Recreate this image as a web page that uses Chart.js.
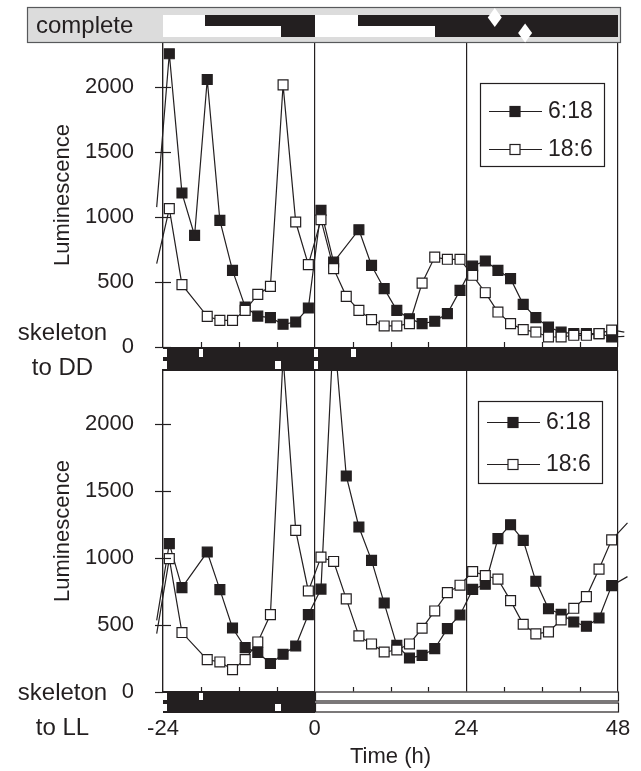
<!DOCTYPE html>
<html>
<head>
<meta charset="utf-8">
<script src="https://cdn.jsdelivr.net/npm/chart.js@4.4.0/dist/chart.umd.min.js"></script>
<style>
  body { margin: 0; background: #fff; }
  #wrap { position: relative; width: 641px; height: 771px; font-family: 'Liberation Sans', Arial, sans-serif; color: #231f20; }
  canvas { position: absolute; left: 0; top: 0; }
  .lbl { position: absolute; text-align: center; font-size: 24px; line-height: 35px; white-space: nowrap; }
</style>
</head>
<body>
<div id="wrap">
  <canvas id="topChart" width="641" height="771"></canvas>
  <canvas id="bottomChart" width="641" height="771"></canvas>
  <div class="lbl" style="left:36px; top:8px; text-align:left; line-height:34px;">complete</div>
  <div class="lbl" style="left:0; top:314px; width:125px;">skeleton<br>to DD</div>
  <div class="lbl" style="left:0; top:674px; width:125px;">skeleton<br>to LL</div>
</div>
<script>
// Time (h) relative to transfer; luminescence readings
// skeleton -> DD, 6:18 (filled squares)
const ddShortT = [-25, -23, -21, -19, -17, -15, -13, -11, -9, -7, -5, -3, -1, 1, 3, 7, 9, 11, 13, 15, 17, 19, 21, 23, 25, 27, 29, 31, 33, 35, 37, 39, 41, 43, 45, 47, 49];
const ddShortV = [1077, 2257, 1185, 859, 2059, 975, 590, 308, 238, 226, 175, 192, 300, 1052, 654, 903, 628, 449, 282, 218, 180, 198, 257, 436, 623, 662, 590, 526, 328, 226, 154, 115, 103, 103, 103, 77, 82];
// skeleton -> DD, 18:6 (open squares)
const ddLongT = [-25, -23, -21, -17, -15, -13, -11, -9, -7, -5, -3, -1, 1, 3, 5, 7, 9, 11, 13, 15, 17, 19, 21, 23, 25, 27, 29, 31, 33, 35, 37, 39, 41, 43, 45, 47, 49];
const ddLongV = [641, 1065, 480, 236, 205, 205, 282, 405, 467, 2018, 962, 634, 980, 603, 390, 282, 211, 162, 162, 180, 492, 692, 675, 675, 552, 418, 269, 180, 134, 115, 77, 77, 90, 90, 103, 131, 115];
// skeleton -> LL, 6:18
const llShortT = [-25, -23, -21, -17, -15, -13, -11, -9, -7, -5, -3, -1, 1, 3, 5, 7, 9, 11, 13, 15, 17, 19, 21, 23, 25, 27, 29, 31, 33, 35, 37, 39, 41, 43, 45, 47, 49.5];
const llShortV = [534, 1106, 778, 1043, 763, 477, 331, 294, 212, 281, 343, 577, 767, 2720, 1610, 1230, 981, 663, 348, 253, 273, 323, 472, 574, 765, 803, 1143, 1247, 1130, 825, 621, 579, 522, 490, 551, 793, 860];
// skeleton -> LL, 18:6
const llLongT = [-25, -23, -21, -17, -15, -13, -11, -9, -7, -5, -3, -1, 1, 3, 5, 7, 9, 11, 13, 15, 17, 19, 21, 23, 25, 27, 29, 31, 33, 35, 37, 39, 41, 43, 45, 47, 49.5];
const llLongV = [435, 994, 443, 241, 224, 167, 241, 373, 577, 2500, 1205, 753, 1005, 973, 694, 418, 358, 298, 313, 358, 475, 604, 741, 796, 898, 868, 841, 681, 505, 433, 448, 537, 624, 711, 916, 1134, 1260];

const xTicks = [-24, 0, 24, 48];
const minorHours = [-18, -12, -6, 6, 12, 18, 30, 36, 42];
const yTicks = [0, 500, 1000, 1500, 2000];

// light schedule of the complete cycles (light spans, rest is dark)
const completeLight618 = [[-24, -17.3], [0, 6.9]];
const completeLight186 = [[-24, -5.3], [0, 19]];
const peakTimes = [28.5, 33.3];   // white diamonds
const peakRows = [0, 1];
// skeleton light pulses
const ddPulses618 = [[-24, -23.4], [-18.3, -17.7], [-0.1, 0.6], [5.8, 6.6]];
const ddPulses186 = [[-24, -23.4], [-6.3, -5.4], [-0.1, 0.6]];
const llPulses618 = [[-24, -23.4], [-18.3, -17.7]];
const llPulses186 = [[-24, -23.4], [-6.3, -5.4]];
const llSpan = [[0, 48]];

const ink = '#231f20';
Chart.defaults.font.family = "'Liberation Sans', Arial, sans-serif";
Chart.defaults.color = ink;

function series(label, t, v, filled, order) {
    return {
        label: label,
        data: t.map((x, i) => ({ x: x, y: v[i] })),
        borderColor: ink,
        borderWidth: 1.2,
        backgroundColor: filled ? ink : '#ffffff',
        pointStyle: 'rect',
        pointRadius: c => (c.raw && (c.raw.x < -24 || c.raw.x > 48)) ? 0 : 7,
        pointBorderColor: ink,
        pointBackgroundColor: filled ? ink : '#ffffff',
        pointBorderWidth: 1.2,
        tension: 0,
        clip: { left: 7, right: 10, top: 0, bottom: 0 },
        order: order
    };
}

function drawStrip(ctx, xs, top, rowH, rows) {
    const px = v => Math.round(xs.getPixelForValue(v));
    rows.forEach((row, r) => {
        const y0 = top + r * rowH;
        (row.dark || []).forEach(([a, b]) => {
            ctx.fillStyle = ink;
            ctx.fillRect(px(a), y0, px(b) - px(a), rowH);
        });
        (row.light || []).forEach(([a, b]) => {
            ctx.fillStyle = '#ffffff';
            ctx.fillRect(px(a), y0, px(b) - px(a), rowH);
        });
        (row.pulses || []).forEach(([a, b]) => {
            ctx.fillStyle = '#ffffff';
            ctx.fillRect(px(a), y0 + 2, Math.max(px(b) - px(a), 3), rowH - 4);
        });
        (row.open || []).forEach(([a, b]) => {
            ctx.fillStyle = '#ffffff';
            ctx.fillRect(px(a), y0 + 0.5, px(b) - px(a), rowH - 1);
            ctx.strokeStyle = ink;
            ctx.lineWidth = 1.2;
            ctx.strokeRect(px(a) + 0.5, y0 + 1, px(b) - px(a), rowH - 2);
        });
    });
}

function drawLegend(chart, box) {
    const ctx = chart.ctx;
    ctx.fillStyle = '#ffffff';
    ctx.fillRect(box.x, box.y, box.w, box.h);
    ctx.strokeStyle = ink;
    ctx.lineWidth = 1.2;
    ctx.strokeRect(box.x + 0.5, box.y + 0.5, box.w, box.h);
    chart.data.datasets.forEach((ds, i) => {
        const cy = Math.round(box.y + box.first + i * box.gap) + 0.5;
        ctx.beginPath();
        ctx.moveTo(box.x + 9, cy);
        ctx.lineTo(box.x + 62, cy);
        ctx.strokeStyle = ink;
        ctx.lineWidth = 1.2;
        ctx.stroke();
        ctx.fillStyle = ds.pointBackgroundColor;
        ctx.fillRect(box.x + 30, cy - 5, 10, 10);
        ctx.strokeRect(box.x + 30, cy - 5, 10, 10);
        ctx.fillStyle = ink;
        ctx.font = "23px 'Liberation Sans', Arial, sans-serif";
        ctx.textBaseline = 'middle';
        ctx.textAlign = 'left';
        ctx.fillText(ds.label, box.x + 68, cy);
    });
}

function decor(cfg) {
    return {
        id: 'decor',
        afterDraw(chart) {
            const ctx = chart.ctx;
            const xs = chart.scales.x, ys = chart.scales.y;
            const area = chart.chartArea;
            ctx.save();
            ctx.strokeStyle = ink;
            ctx.lineWidth = 1.2;
            // y ticks crossing the axis
            yTicks.forEach(v => {
                const py = Math.round(ys.getPixelForValue(v)) + 0.5;
                ctx.beginPath();
                ctx.moveTo(area.left - 8, py);
                ctx.lineTo(area.left + 8, py);
                ctx.stroke();
            });
            // minor time ticks
            minorHours.forEach(h => {
                const px = Math.round(xs.getPixelForValue(h)) + 0.5;
                ctx.beginPath();
                ctx.moveTo(px, area.bottom);
                ctx.lineTo(px, area.bottom - 5);
                ctx.stroke();
            });
            if (cfg.complete) {
                const right = Math.round(xs.getPixelForValue(48)) + 2;
                ctx.fillStyle = '#dcdcdc';
                ctx.fillRect(27, 7, right - 27, 36);
                ctx.strokeStyle = '#58595b';
                ctx.strokeRect(27.5, 7.5, right - 27, 35);
                drawStrip(ctx, xs, 15, 11, [
                    { dark: [[-24, 48]], light: completeLight618 },
                    { dark: [[-24, 48]], light: completeLight186 }
                ]);
                peakTimes.forEach((t, i) => {
                    const cx = xs.getPixelForValue(t);
                    const cy = peakRows[i] === 0 ? 17.5 : 33;
                    ctx.beginPath();
                    ctx.moveTo(cx, cy - 9.5);
                    ctx.lineTo(cx + 7, cy);
                    ctx.lineTo(cx, cy + 9.5);
                    ctx.lineTo(cx - 7, cy);
                    ctx.closePath();
                    ctx.fillStyle = '#ffffff';
                    ctx.fill();
                });
            }
            drawStrip(ctx, xs, cfg.stripTop, cfg.stripRow, cfg.strip);
            drawLegend(chart, cfg.legendBox);
            ctx.restore();
        }
    };
}

function panel(canvasId, cfg) {
    return new Chart(document.getElementById(canvasId), {
        type: 'line',
        data: {
            datasets: [
                series('6:18', cfg.shortT, cfg.shortV, true, 2),
                series('18:6', cfg.longT, cfg.longV, false, 1)
            ]
        },
        options: {
            responsive: false,
            animation: false,
            events: [],
            devicePixelRatio: 1,
            layout: { padding: { left: 0, right: 23, top: cfg.top, bottom: cfg.padBottom } },
            plugins: { legend: { display: false }, tooltip: { enabled: false } },
            scales: {
                x: {
                    type: 'linear',
                    min: -24,
                    max: 48,
                    afterBuildTicks: s => { s.ticks = xTicks.map(v => ({ value: v })); },
                    afterFit: s => { s.height = cfg.xHeight; },
                    grid: { color: ink, lineWidth: 1.2, drawTicks: true, tickLength: 24, tickColor: 'rgba(0,0,0,0)' },
                    border: { display: false },
                    ticks: { display: cfg.showX, padding: 0, font: { size: 22 }, color: ink, maxRotation: 0, autoSkip: false },
                    title: { display: cfg.showX, text: 'Time (h)', font: { size: 22 }, color: ink, padding: { top: 0, bottom: 1 } }
                },
                y: {
                    min: 0,
                    max: cfg.ymax,
                    afterBuildTicks: s => { s.ticks = yTicks.map(v => ({ value: v })); },
                    afterFit: s => { s.width = 163; },
                    grid: { display: false },
                    border: { display: true, color: ink, width: 1.2 },
                    ticks: { padding: 21, font: { size: 22 }, color: ink, callback: v => String(v) },
                    title: { display: true, text: 'Luminescence', font: { size: 22 }, color: ink, padding: { top: 50, bottom: 0 } }
                }
            }
        },
        plugins: [decor(cfg)]
    });
}

panel('topChart', {
    shortT: ddShortT, shortV: ddShortV, longT: ddLongT, longV: ddLongV,
    top: 43, padBottom: 424, xHeight: 0, showX: false, ymax: 2340,
    complete: true,
    stripTop: 347, stripRow: 12,
    strip: [
        { dark: [[-24, 48]], pulses: ddPulses618 },
        { dark: [[-24, 48]], pulses: ddPulses186 }
    ],
    legendBox: { x: 480, y: 83, w: 124, h: 83, first: 27.7, gap: 38 }
});

panel('bottomChart', {
    shortT: llShortT, shortV: llShortV, longT: llLongT, longV: llLongV,
    top: 370, padBottom: 0, xHeight: 79, showX: true, ymax: 2400,
    complete: false,
    stripTop: 691, stripRow: 11,
    strip: [
        { dark: [[-24, 0]], pulses: llPulses618, open: llSpan },
        { dark: [[-24, 0]], pulses: llPulses186, open: llSpan }
    ],
    legendBox: { x: 478, y: 401, w: 124, h: 82, first: 21.3, gap: 42 }
});
</script>
</body>
</html>
